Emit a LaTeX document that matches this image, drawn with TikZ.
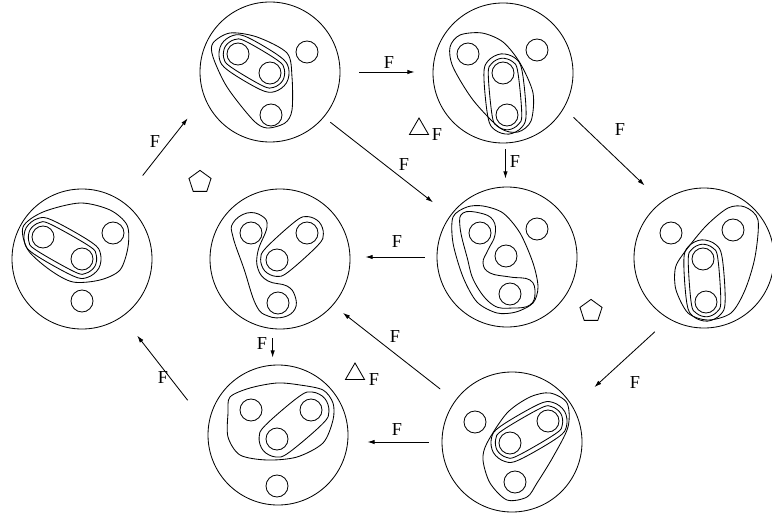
\documentclass[tikz,border=0pt]{standalone}
\usepackage{fontspec}
\setmainfont{Liberation Serif}
\usetikzlibrary{calc, arrows.meta, shapes.geometric}

% two pebbles wrapped in one smooth band
\newcommand\pairblob[3]{%
	\draw plot[smooth cycle, tension=0.6] coordinates {($(#1)!#3!90:(#2)$) ($(#1)!#3!135:(#2)$) ($(#1)!#3!180:(#2)$) ($(#1)!#3!225:(#2)$) ($(#1)!#3!270:(#2)$) ($(#2)!#3!90:(#1)$) ($(#2)!#3!135:(#1)$) ($(#2)!#3!180:(#1)$) ($(#2)!#3!225:(#1)$) ($(#2)!#3!270:(#1)$)};}

\begin{document}
\begin{tikzpicture}[
			x=0.25mm, y=-0.25mm, line width=0.6pt,
			% --- Styles ---
			world/.style={
				circle, draw, minimum size=35mm, inner sep=0pt
			},
			pebble/.style={
				circle, draw, minimum size=5.5mm, inner sep=0pt
			},
			flow/.style={
				draw, -{Latex[length=1.8mm, width=1.1mm]}
			},
			flabel/.style={
				font=\fontsize{13}{15}\selectfont, inner sep=0pt
			},
			tri/.style={
				regular polygon, regular polygon sides=3, draw, minimum size=5.5mm, inner sep=0pt
			},
			penta/.style={
				regular polygon, regular polygon sides=5, draw, minimum size=5.8mm, inner sep=0pt
			}
			]
			\useasboundingbox (0,0) rectangle (772,515);
			
			% --- 1. Worlds ---
			\node [world] (tl) at (270,72) {};
			\node [world] (tr) at (503,73) {};
			\node [world] (ml) at (82,259) {};
			\node [world] (cl) at (280,259) {};
			\node [world] (cr) at (507,257) {};
			\node [world] (mr) at (704,258) {};
			\node [world] (bl) at (278,435) {};
			\node [world] (br) at (512,442) {};
			
			% --- 2. Top left world ---
			\begin{scope}[shift={(tl)}]
				\node [pebble] (tl1) at (-32,-18) {};
				\node [pebble] (tl2) at (0,1) {};
				\node [pebble] (tl3) at (1,43) {};
				\node [pebble] (tl4) at (37,-20) {};
				\pairblob{tl1}{tl2}{3.7mm}
				\pairblob{tl1}{tl2}{4.8mm}
				\draw plot[smooth cycle] coordinates {(-57,-29) (-40,-39) (-13,-35) (17,-19) (22,5) (22,38) (15,51) (-3,56) (-17,48) (-43,15) (-57,-15)};
			\end{scope}
			
			% --- 3. Top right world ---
			\begin{scope}[shift={(tr)}]
				\node [pebble] (tr1) at (-35,-19) {};
				\node [pebble] (tr2) at (0,0) {};
				\node [pebble] (tr3) at (4,42) {};
				\node [pebble] (tr4) at (34,-23) {};
				\pairblob{tr2}{tr3}{3.7mm}
				\pairblob{tr2}{tr3}{4.8mm}
				\draw plot[smooth cycle] coordinates {(-43,-38) (-21,-40) (0,-31) (17,-10) (30,20) (28,48) (15,59) (-3,55) (-30,27) (-50,-6) (-53,-26)};
			\end{scope}
			
			% --- 4. Far left world ---
			\begin{scope}[shift={(ml)}]
				\node [pebble] (ml1) at (-39,-22) {};
				\node [pebble] (ml2) at (0,0) {};
				\node [pebble] (ml3) at (31,-26) {};
				\node [pebble] (ml4) at (0,42) {};
				\pairblob{ml1}{ml2}{3.7mm}
				\pairblob{ml1}{ml2}{4.8mm}
				\draw plot[smooth cycle] coordinates {(-59,-32) (-39,-47) (-2,-56) (28,-49) (45,-34) (46,-12) (38,11) (18,21) (-9,23) (-32,11) (-54,-9)};
			\end{scope}
			
			% --- 5. Centre left world ---
			\begin{scope}[shift={(cl)}]
				\node [pebble] (cl1) at (-29,-26) {};
				\node [pebble] (cl2) at (27,-26) {};
				\node [pebble] (cl3) at (-3,1) {};
				\node [pebble] (cl4) at (-2,44) {};
				\pairblob{cl2}{cl3}{4.1mm}
				\draw plot[smooth cycle, tension=0.7] coordinates {(-47,-36) (-33,-46) (-18,-43) (-13,-32) (-22,-8) (-22,10) (-12,22) (7,27) (15,37) (15,50) (4,58) (-12,57) (-24,46) (-36,10) (-47,-22)};
			\end{scope}
			
			% --- 6. Centre right world ---
			\begin{scope}[shift={(cr)}]
				\node [pebble] (cr1) at (-27,-24) {};
				\node [pebble] (cr2) at (-1,-1) {};
				\node [pebble] (cr3) at (3,37) {};
				\node [pebble] (cr4) at (30,-28) {};
				\draw plot[smooth cycle, tension=0.7] coordinates {(-44,-44) (-27,-44) (-14,-37) (-12,-22) (-19,-7) (-24,6) (-17,16) (3,20) (23,23) (28,36) (23,48) (6,51) (-14,48) (-32,26) (-40,0) (-47,-30)};
				\draw plot[smooth cycle] coordinates {(-54,-40) (-40,-50) (-24,-51) (-4,-44) (13,-24) (26,6) (31,30) (26,46) (9,55) (-10,56) (-30,45) (-44,20) (-54,-14)};
			\end{scope}
			
			% --- 7. Far right world ---
			\begin{scope}[shift={(mr)}]
				\node [pebble] (mr1) at (-33,-25) {};
				\node [pebble] (mr2) at (29,-28) {};
				\node [pebble] (mr3) at (-1,1) {};
				\node [pebble] (mr4) at (2,44) {};
				\pairblob{mr3}{mr4}{3.7mm}
				\pairblob{mr3}{mr4}{4.8mm}
				\draw plot[smooth cycle] coordinates {(-23,-1) (1,-31) (24,-50) (41,-51) (54,-38) (51,-1) (41,32) (27,55) (4,62) (-16,55) (-28,32) (-29,12)};
			\end{scope}
			
			% --- 8. Bottom left world ---
			\begin{scope}[shift={(bl)}]
				\node [pebble] (bl1) at (-27,-25) {};
				\node [pebble] (bl2) at (33,-25) {};
				\node [pebble] (bl3) at (-1,4) {};
				\node [pebble] (bl4) at (-1,51) {};
				\pairblob{bl2}{bl3}{4.5mm}
				\draw plot[smooth cycle] coordinates {(-48,-38) (-28,-47) (-1,-52) (22,-50) (45,-45) (55,-32) (55,-15) (45,8) (19,22) (-11,25) (-38,20) (-50,2) (-50,-22)};
			\end{scope}
			
			% --- 9. Bottom right world ---
			\begin{scope}[shift={(br)}]
				\node [pebble] (br1) at (-37,-20) {};
				\node [pebble] (br2) at (36,-21) {};
				\node [pebble] (br3) at (-2,1) {};
				\node [pebble] (br4) at (3,40) {};
				\pairblob{br2}{br3}{3.7mm}
				\pairblob{br2}{br3}{4.8mm}
				\draw plot[smooth cycle] coordinates {(-25,1) (-5,-29) (18,-45) (38,-49) (55,-39) (56,-15) (41,15) (25,41) (15,55) (-5,58) (-22,41) (-29,18)};
			\end{scope}
			
			% --- 10. Arrows ---
			\draw [flow, shorten <=8.2mm, shorten >=6.7mm] (ml.55) -- (tl.201);
			\draw [flow, shorten <=4.75mm, shorten >=4.5mm] (tl.east) -- (tl.east -| tr.west);
			\draw [flow, shorten <=2mm, shorten >=5.4mm] (tl.-40) -- (cr.144);
			\draw [flow, shorten <=1.5mm, shorten >=2mm] (tr.-88) -- (tr.-88 |- cr.north);
			\draw [flow, shorten <=3.3mm, shorten >=5.9mm] (tr.-30) -- (mr.127);
			\draw [flow, shorten <=3mm, shorten >=3.75mm] (cr.west) -- (cr.west -| cl.east);
			\draw [flow, shorten <=4.7mm, shorten >=7.25mm] (mr.240) -- (br.30);
			\draw [flow, shorten <=4.7mm, shorten >=3.1mm] (br.144) -- (cl.-41);
			\draw [flow, shorten <=3.25mm, shorten >=4.75mm] (br.west) -- (br.west -| bl.east);
			\draw [flow, shorten <=8.3mm, shorten >=6mm] (bl.173) -- (ml.-55);
			\draw [flow, shorten <=2.25mm, shorten >=1.75mm] (cl.-96) -- (cl.-96 |- bl.north);
			
			% --- 11. Arrow labels ---
			\node [flabel] (fa) at (155,142) {F};
			\node [flabel] (fb) at (389,63) {F};
			\node [flabel] (fc) at (404,165) {F};
			\node [flabel] (fd) at (515,162) {F};
			\node [flabel] (fe) at (620,130) {F};
			\node [flabel] (ff) at (397,242) {F};
			\node [flabel] (fg) at (635,383) {F};
			\node [flabel] (fh) at (395,337) {F};
			\node [flabel] (fi) at (397,430) {F};
			\node [flabel] (fj) at (163,378) {F};
			\node [flabel] (fk) at (262,344) {F};
			
			% --- 12. Triangles and pentagons ---
			\node [tri] (tri1) at (419,129) {};
			\node [flabel] (ftri1) at (437,135) {F};
			\node [tri] (tri2) at (355,374) {};
			\node [flabel] (ftri2) at (374,380) {F};
			\node [penta] (pent1) at (200,182) {};
			\node [penta] (pent2) at (591,311) {};
			
		\end{tikzpicture}
\end{document}
